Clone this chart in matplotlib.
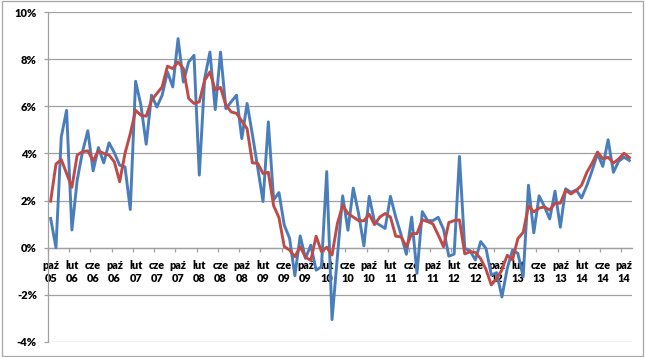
import matplotlib
matplotlib.use("Agg")
import matplotlib.pyplot as plt
from matplotlib.patches import Rectangle
from matplotlib.ticker import FixedLocator, FixedFormatter, FuncFormatter
import numpy as np

# monthly values, Oct 2005 .. Nov 2014 (percent)
blue_series = [
    1.24, 0.0, 4.7, 5.83, 0.75, 2.87, 4.07, 4.96, 3.26, 4.25,
    3.6, 4.45, 4.03, 3.5, 3.43, 1.62, 7.06, 6.05, 4.39, 6.47,
    5.97, 6.47, 7.46, 6.82, 8.87, 7.03, 7.88, 8.16, 3.08, 7.17,
    8.3, 5.86, 8.3, 5.9, 6.19, 6.47, 4.63, 6.12, 4.8, 3.4,
    1.96, 5.34, 2.03, 2.34, 0.96, 0.4, -1.19, 0.5, -0.45, 0.11,
    -0.95, -0.81, 3.23, -3.05, -0.4, 2.2, 0.74, 2.53, 1.45, 0.08,
    2.18, 1.1, 0.96, 0.82, 2.18, 1.3, 0.56, -0.28, 1.3, -1.09,
    1.53, 1.15, 1.15, 1.29, 0.78, -0.36, -0.27, 3.87, -0.03, -0.13,
    -0.52, 0.26, -0.03, -1.16, -1.06, -2.09, -0.88, -0.1, -0.24, -1.23,
    2.65, 0.63, 2.2, 1.75, 1.22, 2.4, 0.87, 2.5, 2.35, 2.45,
    2.11, 2.64, 3.28, 3.99, 3.45, 4.58, 3.2, 3.67, 3.84, 3.7,
]
red_series = [
    1.98, 3.55, 3.74, 3.15, 2.56, 3.93, 4.07, 4.11, 3.69, 4.11,
    4.0, 3.93, 3.64, 2.8, 4.0, 4.84, 5.83, 5.62, 5.58, 6.26,
    6.54, 6.82, 7.7, 7.6, 7.88, 7.6, 6.33, 6.12, 6.19, 7.1,
    7.46, 6.68, 6.8, 6.05, 5.76, 5.7, 5.38, 5.05, 3.6, 3.58,
    3.15, 3.2, 1.78, 1.28, 0.05, -0.1, -0.38, 0.04, -0.4, -0.54,
    0.49, -0.16, 0.02, -0.31, 1.02, 1.8, 1.45, 1.3, 1.15, 1.14,
    1.42, 0.98, 1.3, 1.45, 1.3, 0.49, 0.46, 0.04, 0.6, 0.6,
    1.18, 1.11, 1.01, 0.54, 0.04, 1.07, 1.15, 1.18, -0.26, -0.17,
    -0.2, -0.47, -0.92, -1.58, -1.32, -0.94, -0.32, -0.52, 0.39, 0.65,
    1.77, 1.52, 1.68, 1.73, 1.6, 1.89, 1.89, 2.44, 2.28, 2.43,
    2.65, 3.2, 3.59, 4.06, 3.77, 3.84, 3.59, 3.77, 4.01, 3.82,
]
tick_labels = [
    "paź\n05", "lut\n06", "cze\n06", "paź\n06", "lut\n07", "cze\n07", "paź\n07",
    "lut\n08", "cze\n08", "paź\n08", "lut\n09", "cze\n09", "paź\n09",
    "lut\n10", "cze\n10", "paź\n10", "lut\n11", "cze\n11", "paź\n11",
    "lut\n12", "cze\n12", "paź\n12", "lut\n13", "cze\n13", "paź\n13",
    "lut\n14", "cze\n14", "paź\n14",
]
label_step = 4
y_ticks = [-4, -2, 0, 2, 4, 6, 8, 10]

plt.rcParams['font.family'] = ['Lato', 'DejaVu Sans']

W, H = 645, 357
fig = plt.figure(figsize=(W / 100, H / 100), dpi=100)
ax = fig.add_axes([48 / W, 1 - 342 / H, (632 - 48) / W, (342 - 12) / H])

# outer chart border
fig.patches.append(Rectangle((2 / W, 1.5 / H), 641 / W, 354.5 / H,
                             transform=fig.transFigure, fill=False,
                             ec='#a6a6a6', lw=0.9))

n = len(blue_series)
x = np.arange(n)
ax.plot(x, blue_series, color='#4A7EBB', lw=2.1, solid_joinstyle='round', zorder=3)
ax.plot(x, red_series, color='#BE4B48', lw=2.1, solid_joinstyle='round', zorder=4)

ax.set_xlim(-0.5, n - 0.5)
ax.set_ylim(min(y_ticks), max(y_ticks))
ax.set_yticks(y_ticks)
ax.yaxis.set_major_formatter(FuncFormatter(lambda v, p: f"{v:.0f}%"))
ax.grid(axis='y', color='#a0a0a0', lw=0.9)
ax.set_axisbelow(True)

for s in ['top', 'right']:
    ax.spines[s].set_visible(False)
ax.spines['left'].set_color('#a0a0a0')
ax.spines['left'].set_linewidth(0.9)
ax.spines['bottom'].set_position(('data', 0))
ax.spines['bottom'].set_color('#a0a0a0')
ax.spines['bottom'].set_linewidth(0.9)

ax.tick_params(axis='y', length=3, width=0.9, color='#a0a0a0', pad=5,
               labelsize=8, labelcolor='black')
for lab in ax.get_yticklabels():
    lab.set_fontweight('heavy')

ax.xaxis.set_major_locator(FixedLocator(np.arange(-0.5, n - 1, label_step)))
ax.xaxis.set_major_formatter(FixedFormatter([''] * 40))
ax.xaxis.set_minor_locator(FixedLocator(np.arange(0, len(tick_labels) * label_step, label_step)))
ax.xaxis.set_minor_formatter(FixedFormatter(tick_labels))
ax.tick_params(axis='x', which='major', length=3, width=0.9, color='#a0a0a0', direction='out')
ax.tick_params(axis='x', which='minor', length=0, pad=9, labelsize=7.8, labelcolor='black')
for lab in ax.get_xticklabels(minor=True):
    lab.set_fontweight('heavy')
    lab.set_linespacing(1.2)

fig.savefig('out.png', dpi=100)
